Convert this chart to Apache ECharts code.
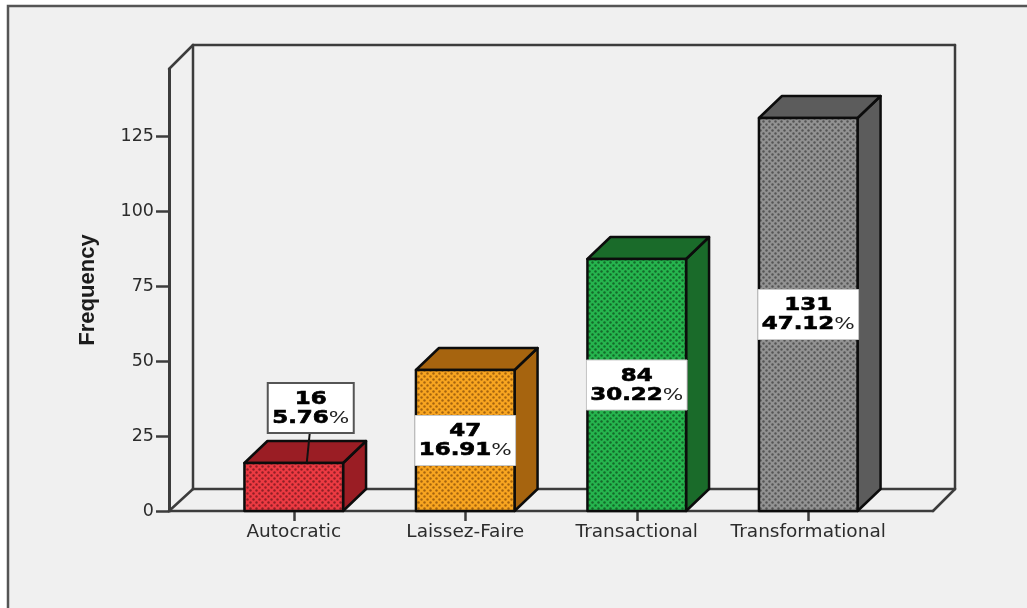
<!DOCTYPE html>
<html><head><meta charset="utf-8">
<style>html,body{margin:0;padding:0;background:#fff}#c{width:1027px;height:608px}</style>
<script src="https://cdn.jsdelivr.net/npm/echarts@6/dist/echarts.min.js"></script>
</head><body><div id="c"></div>
<script>
const categories = ['Autocratic', 'Laissez-Faire', 'Transactional', 'Transformational'];
const frequencies = [16, 47, 84, 131];
const percentages = ['5.76', '16.91', '30.22', '47.12'];
const frontColors = ['#ec3a42', '#f8a520', '#26b54e', '#929292'];
const dotColors = ['#8f1f26', '#a5640f', '#14692a', '#555555'];
const sideColors = ['#9a1d24', '#a6640f', '#1a6b2a', '#5c5c5c'];
const yTicks = [0, 25, 50, 75, 100, 125];

const DEPTH_X = 23, DEPTH_Y = 22, INK = '#0c0c0c';
const AXIS = '#3c3c3c';

function dots(base, dot) {
  const c = document.createElement('canvas');
  c.width = 6; c.height = 6;
  const g = c.getContext('2d');
  g.fillStyle = base; g.fillRect(0, 0, 6, 6);
  g.fillStyle = dot;
  [[1.5, 1.5], [4.5, 4.5]].forEach(p => { g.beginPath(); g.arc(p[0], p[1], 1.2, 0, 7); g.fill(); });
  return c;
}
const patterns = frontColors.map((b, i) => dots(b, dotColors[i]));

function renderBar(params, api) {
  const i = api.value(0), v = api.value(1);
  const base = api.coord([i, 0]), top = api.coord([i, v]);
  const w = api.size([1, 0])[0] * 0.575;
  const x0 = base[0] - w / 2, x1 = base[0] + w / 2, yT = top[1], yB = base[1];
  const stroke = { stroke: INK, lineWidth: 2.5, lineJoin: 'round' };
  const kids = [
    { type: 'polygon', shape: { points: [[x1, yT], [x1 + DEPTH_X, yT - DEPTH_Y], [x1 + DEPTH_X, yB - DEPTH_Y], [x1, yB]] },
      style: Object.assign({ fill: sideColors[i] }, stroke) },
    { type: 'polygon', shape: { points: [[x0, yT], [x0 + DEPTH_X, yT - DEPTH_Y], [x1 + DEPTH_X, yT - DEPTH_Y], [x1, yT]] },
      style: Object.assign({ fill: sideColors[i] }, stroke) },
    { type: 'rect', shape: { x: x0, y: yT, width: w, height: yB - yT },
      style: Object.assign({ fill: { image: patterns[i], repeat: 'repeat' } }, stroke) }
  ];
  const h = 50, lifted = (yB - yT) < h;
  const bw = lifted ? 86 : w + 2;
  const cx = lifted ? base[0] + 17 : base[0];
  const cy = lifted ? yT - 55 : (yT + yB) / 2;
  if (lifted) {
    kids.push({ type: 'line', shape: { x1: cx - 1, y1: cy + h / 2, x2: base[0] + 13, y2: yT },
      style: { stroke: '#111', lineWidth: 2 } });
  }
  kids.push({ type: 'rect', shape: { x: cx - bw / 2, y: cy - h / 2, width: bw, height: h },
    style: { fill: '#fff', stroke: lifted ? '#555' : '#c8c8c8', lineWidth: lifted ? 2 : 1 } });
  kids.push({ type: 'text', x: cx, y: cy + 1, scaleX: 1.35,
    style: {
      text: '{b|' + v + '}\n{b|' + percentages[i] + '}{n|%}',
      align: 'center', verticalAlign: 'middle',
      rich: {
        b: { fontFamily: 'DejaVu Sans', fontWeight: 'bold', fontSize: 17, lineHeight: 19, fill: '#000', stroke: '#000', lineWidth: 0.6 },
        n: { fontFamily: 'DejaVu Sans', fontWeight: 'normal', fontSize: 16, lineHeight: 19, fill: '#222' }
      }
    } });
  return { type: 'group', children: kids };
}

const line = (x1, y1, x2, y2) => ({ type: 'line', shape: { x1, y1, x2, y2 }, z: 1,
  style: { stroke: AXIS, lineWidth: 2.5, lineCap: 'round' } });

const chart = echarts.init(document.getElementById('c'), null, { renderer: 'canvas' });
chart.setOption({
  animation: false,
  backgroundColor: '#fff',
  graphic: { elements: [
    { type: 'rect', shape: { x: 8, y: 6, width: 1030, height: 620 }, z: 0,
      style: { fill: '#f0f0f0', stroke: '#555', lineWidth: 2.5 } },
    line(193, 45, 955, 45), line(193, 45, 193, 489), line(955, 45, 955, 489),
    line(193, 489, 955, 489), line(169, 69, 193, 45), line(169, 511, 193, 489),
    line(933, 511, 955, 489), line(169, 511, 933, 511)
  ] },
  grid: { left: 208, top: 69, width: 686, height: 442 },
  xAxis: {
    type: 'category', data: categories,
    axisLine: { show: false },
    axisTick: { show: true, interval: 0, alignWithLabel: true, length: 10, lineStyle: { color: AXIS, width: 2.5 } },
    axisLabel: { interval: 0, margin: 12, fontFamily: 'DejaVu Sans', fontSize: 18.5, color: '#2c2c2c' }
  },
  yAxis: {
    type: 'value', min: 0, max: 147.33, offset: 39,
    name: 'Frequency', nameLocation: 'middle', nameGap: 70, nameRotate: 90,
    nameTextStyle: { fontFamily: 'Liberation Sans', fontWeight: 'bold', fontSize: 22, color: '#1c1c1c' },
    axisLine: { show: true, lineStyle: { color: AXIS, width: 3 } },
    axisTick: { show: true, length: 13, customValues: yTicks, lineStyle: { color: AXIS, width: 2.5 } },
    axisLabel: { margin: 15, customValues: yTicks, fontFamily: 'DejaVu Sans', fontSize: 17.5, color: '#2c2c2c' },
    splitLine: { show: false }
  },
  series: [{
    type: 'custom', renderItem: renderBar, z: 5, clip: false,
    encode: { x: 0, y: 1 },
    data: frequencies.map((v, i) => [i, v])
  }]
});
</script></body></html>
